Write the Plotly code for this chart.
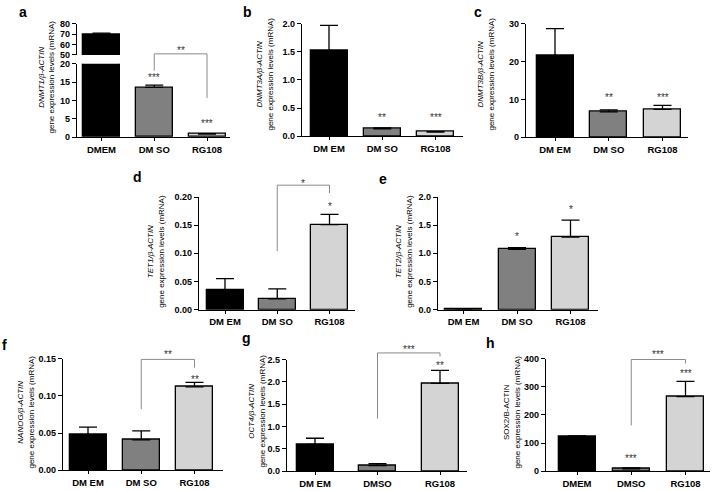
import plotly.graph_objects as go

W, H = 713, 491

# ---------------- data ----------------
labels_a = ["DMEM", "DM SO", "RG108"]
labels_bf = ["DM EM", "DM SO", "RG108"]
labels_g = ["DM EM", "DMSO", "RG108"]
labels_h = ["DMEM", "DMSO", "RG108"]

dnmt1_mean = [69.0, 13.6, 0.85]
dnmt1_sem = [1.8, 0.6, 0.1]
dnmt3a_mean = [1.52, 0.13, 0.075]
dnmt3a_sem = [0.45, 0.02, 0.008]
dnmt3b_mean = [21.5, 6.7, 7.35]
dnmt3b_sem = [7.2, 0.55, 1.05]
tet1_mean = [0.035, 0.019, 0.151]
tet1_sem = [0.020, 0.018, 0.018]
tet2_mean = [0.01, 1.07, 1.29]
tet2_sem = [0.005, 0.03, 0.30]
nanog_mean = [0.048, 0.041, 0.112]
nanog_sem = [0.010, 0.012, 0.006]
oct4_mean = [0.60, 0.13, 1.97]
oct4_sem = [0.14, 0.04, 0.29]
sox2_mean = [124, 9, 265]
sox2_sem = [2, 3, 54]

ticks_a_low = [0, 5, 10, 15, 20]
ticks_a_up = [50, 60, 70, 80]
ticks_b = [0, 0.5, 1.0, 1.5, 2.0]
ticks_c = [0, 10, 20, 30]
ticks_d = [0, 0.05, 0.10, 0.15, 0.20]
ticks_e = [0, 0.5, 1.0, 1.5, 2.0]
ticks_f = [0, 0.05, 0.10, 0.15]
ticks_g = [0, 0.5, 1.0, 1.5, 2.0, 2.5]
ticks_h = [0, 100, 200, 300, 400]

bar_colors = ["#000000", "#808080", "#d4d4d4"]

# significance: (panel, category index, y in data units, label)
stars = [
    ("a_low", 1, 17.1, "***"), ("a_low", 2, 4.5, "***"),
    ("b", 1, 0.38, "**"), ("b", 2, 0.38, "***"),
    ("c", 1, 11.4, "**"), ("c", 2, 11.4, "***"),
    ("d", 2, 0.188, "*"),
    ("e", 1, 1.36, "*"), ("e", 2, 1.84, "*"),
    ("f", 2, 0.126, "**"),
    ("g", 2, 2.43, "**"),
    ("h", 1, 56, "***"), ("h", 2, 358, "***"),
]
# brackets: (panel, x_left, x_right, y_top, y_left_end, y_right_end, label, label_y)
brackets = [
    ("a_low", 1, 2, 22.7, 18.1, 10.7, "**", 24.5),
    ("d", 1, 2, 0.221, 0.104, 0.207, "*", 0.230),
    ("f", 1, 2, 0.149, 0.082, 0.138, "**", 0.159),
    ("g", 1, 2, 2.65, 1.18, 2.57, "***", 2.79),
    ("h", 1, 2, 397, 163, 383, "***", 424),
]

# ---------------- layout geometry (pixels) ----------------
panels = [
    dict(key="a_low", x0=77, x1=230, c0=101.5, s=52.75, y0=135, y1=60, yr=[0, 20],
         ticks=ticks_a_low, fmt="", mean=dnmt1_mean, sem=dnmt1_sem, labels=labels_a, showx=True),
    dict(key="a_up", x0=77, x1=230, c0=101.5, s=52.75, y0=51, y1=19, yr=[50, 80],
         ticks=ticks_a_up, fmt="", mean=dnmt1_mean, sem=dnmt1_sem, labels=labels_a, showx=False),
    dict(key="b", x0=302, x1=463, c0=329, s=53.25, y0=134, y1=19, yr=[0, 2],
         ticks=ticks_b, fmt=".1f", mean=dnmt3a_mean, sem=dnmt3a_sem, labels=labels_bf, showx=True),
    dict(key="c", x0=526, x1=688, c0=555, s=53.75, y0=135, y1=19, yr=[0, 30],
         ticks=ticks_c, fmt="", mean=dnmt3b_mean, sem=dnmt3b_sem, labels=labels_bf, showx=True),
    dict(key="d", x0=199, x1=355, c0=225, s=52.25, y0=311, y1=196, yr=[0, 0.2],
         ticks=ticks_d, fmt=".2f", mean=tet1_mean, sem=tet1_sem, labels=labels_bf, showx=True),
    dict(key="e", x0=438, x1=598, c0=463.5, s=53.5, y0=311, y1=196, yr=[0, 2],
         ticks=ticks_e, fmt=".1f", mean=tet2_mean, sem=tet2_sem, labels=labels_bf, showx=True),
    dict(key="f", x0=63, x1=223, c0=88, s=53.25, y0=475, y1=361, yr=[0, 0.15],
         ticks=ticks_f, fmt=".2f", mean=nanog_mean, sem=nanog_sem, labels=labels_bf, showx=True),
    dict(key="g", x0=287, x1=467, c0=315, s=62.5, y0=476, y1=362, yr=[0, 2.5],
         ticks=ticks_g, fmt=".1f", mean=oct4_mean, sem=oct4_sem, labels=labels_g, showx=True),
    dict(key="h", x0=546, x1=710, c0=577, s=54.25, y0=476, y1=361, yr=[0, 400],
         ticks=ticks_h, fmt="", mean=sox2_mean, sem=sox2_sem, labels=labels_h, showx=True),
]
BAR_PX = 37
FONT = "Arial, Liberation Sans, sans-serif"
geom = {}

fig = go.Figure()
axes_layout = {}
for i, p in enumerate(panels):
    n = i + 1
    sfx = "" if n == 1 else str(n)
    xa, ya = "x" + sfx, "y" + sfx
    xr = [(p["x0"] - p["c0"]) / p["s"], (p["x1"] - p["c0"]) / p["s"]]
    geom[p["key"]] = dict(x0=p["x0"], x1=p["x1"], xr=xr, y0=p["y0"], y1=p["y1"], yr=p["yr"])
    fig.add_trace(go.Bar(
        x=[0, 1, 2], y=p["mean"], width=BAR_PX / p["s"],
        marker=dict(color=bar_colors, line=dict(color="black", width=1.3)),
        error_y=dict(type="data", symmetric=False, array=p["sem"], arrayminus=[0, 0, 0],
                     color="black", thickness=1.3, width=9),
        xaxis=xa, yaxis=ya, hoverinfo="skip", showlegend=False))
    xd = dict(domain=[p["x0"] / W, p["x1"] / W], range=xr, anchor=ya,
              showgrid=False, zeroline=False, fixedrange=True)
    if p["showx"]:
        xd.update(showline=True, linecolor="black", linewidth=1.3, ticks="outside",
                  ticklen=3, tickwidth=1.2, tickcolor="black",
                  tickvals=[0, 1, 2], ticktext=p["labels"],
                  tickfont=dict(family=FONT, size=9.5, color="black", weight="bold"))
    else:
        xd.update(showline=False, ticks="", showticklabels=False)
    axes_layout["xaxis" + sfx] = xd
    axes_layout["yaxis" + sfx] = dict(
        domain=[1 - p["y0"] / H, 1 - p["y1"] / H], range=p["yr"], anchor=xa,
        showgrid=False, zeroline=False, fixedrange=True,
        showline=True, linecolor="black", linewidth=1.3, ticks="outside",
        ticklen=4, tickwidth=1.2, tickcolor="black", tickvals=p["ticks"],
        tickformat=p["fmt"],
        tickfont=dict(family=FONT, size=9, color="black", weight="bold"))


def to_paper(key, xi, yv):
    g = geom[key]
    xp = g["x0"] + (xi - g["xr"][0]) / (g["xr"][1] - g["xr"][0]) * (g["x1"] - g["x0"])
    yp = g["y0"] + (yv - g["yr"][0]) / (g["yr"][1] - g["yr"][0]) * (g["y1"] - g["y0"])
    return xp / W, 1 - yp / H


annotations = []
shapes = []
for key, xi, yv, lab in stars:
    xp, yp = to_paper(key, xi, yv)
    annotations.append(dict(x=xp, y=yp, xref="paper", yref="paper", text=lab,
                            showarrow=False, xanchor="center", yanchor="middle", yshift=-3,
                            font=dict(family=FONT, size=10, color="#333333")))
for key, xl, xr_, yt, yle, yre, lab, ly in brackets:
    xlp, ytp = to_paper(key, xl, yt)
    xrp, _ = to_paper(key, xr_, yt)
    _, ylp = to_paper(key, xl, yle)
    _, yrp = to_paper(key, xr_, yre)
    shapes.append(dict(type="path", xref="paper", yref="paper",
                       path=f"M {xlp},{ylp} L {xlp},{ytp} L {xrp},{ytp} L {xrp},{yrp}",
                       line=dict(color="#8a8a8a", width=1)))
    lxp, lyp = to_paper(key, (xl + xr_) / 2, ly)
    annotations.append(dict(x=lxp, y=lyp, xref="paper", yref="paper", text=lab,
                            showarrow=False, xanchor="center", yanchor="middle", yshift=-3,
                            font=dict(family=FONT, size=10, color="#333333")))

# y-axis titles: (text, x px, y px)
ytitles = [
    ("<i>DNMT1/β-ACTIN</i><br>gene expression levels (mRNA)", 46, 74),
    ("<i>DNMT3A/β-ACTIN</i><br>gene expression levels (mRNA)", 265, 71),
    ("<i>DNMT3B/β-ACTIN</i><br>gene expression levels (mRNA)", 486, 71),
    ("<i>TET1/β-ACTIN</i><br>gene expression levels (mRNA)", 156, 252),
    ("<i>TET2/β-ACTIN</i><br>gene expression levels (mRNA)", 404, 252),
    ("<i>NANOG/β-ACTIN</i><br>gene expression levels (mRNA)", 26, 416),
    ("<i>OCT4/β-ACTIN</i><br>gene expression levels (mRNA)", 257, 415),
    ("SOX2/B-ACTIN<br>gene expression levels (mRNA)", 512, 416),
]
for txt, xpx, ypx in ytitles:
    annotations.append(dict(x=xpx / W, y=1 - ypx / H, xref="paper", yref="paper", text=txt,
                            textangle=-90, showarrow=False, xanchor="center", yanchor="middle",
                            font=dict(family=FONT, size=8, color="black")))

letters = [("a", 23, 7), ("b", 247, 7), ("c", 478, 7), ("d", 137, 176), ("e", 383, 178),
           ("f", 4, 347), ("g", 246, 340), ("h", 490, 345)]
for t, xpx, ypx in letters:
    annotations.append(dict(x=xpx / W, y=1 - ypx / H, xref="paper", yref="paper", text=t,
                            showarrow=False, xanchor="center", yanchor="middle",
                            font=dict(family=FONT, size=14, color="black", weight="bold")))

fig.update_layout(
    width=W, height=H, margin=dict(l=0, r=0, t=0, b=0),
    paper_bgcolor="white", plot_bgcolor="white", showlegend=False,
    bargap=0, annotations=annotations, shapes=shapes, **axes_layout)

fig.write_html("out.html", config={"displayModeBar": False},
               post_script="document.body.style.margin='0';document.body.style.overflow='hidden';")
